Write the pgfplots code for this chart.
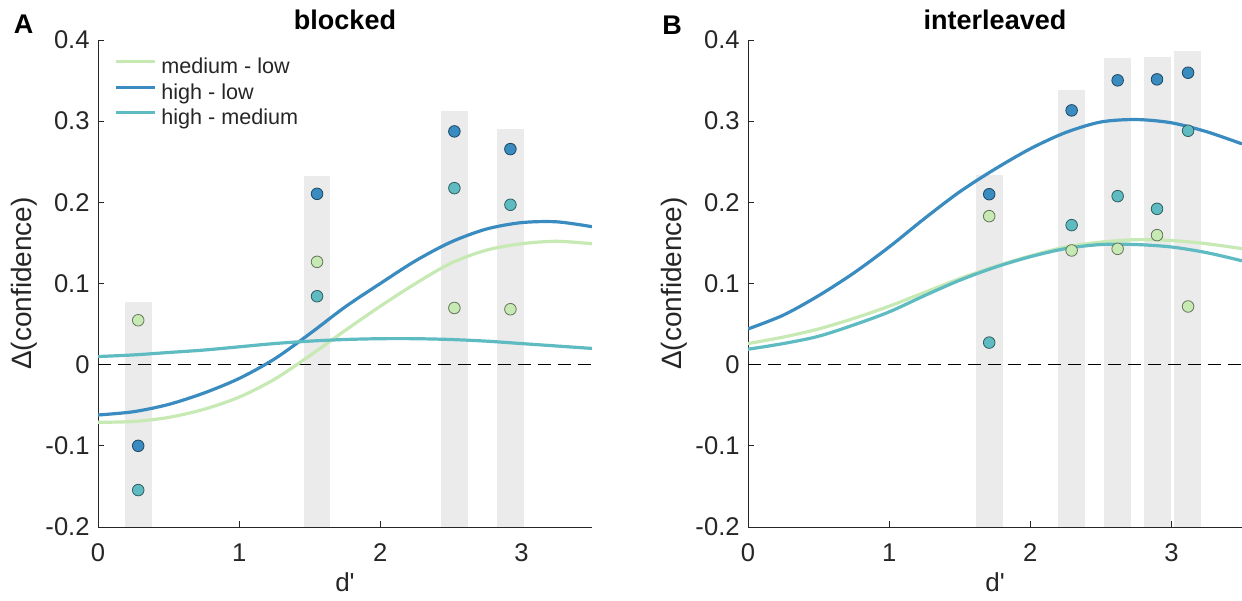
\documentclass[border=0pt]{standalone}
\usepackage{fontspec}
\setmainfont{Liberation Sans}
\usepackage{pgfplots}
\pgfplotsset{compat=1.18}
\definecolor{cGreen}{HTML}{C7E9B4}
\definecolor{cBlue}{HTML}{3A8CC0}
\definecolor{cTeal}{HTML}{5EBBC1}
\definecolor{cBar}{HTML}{EBEBEB}
\definecolor{cAxis}{HTML}{262626}
\pgfplotsset{
  panel/.style={
    width=247pt, height=243.5pt, scale only axis,
    clip mode=individual,
    xmin=0, xmax=3.5, ymin=-0.2, ymax=0.4,
    axis x line*=bottom, axis y line*=left,
    axis line style={draw=cAxis, line width=0.5pt, -},
    tick align=inside, major tick length=2.8pt,
    tick style={draw=cAxis, line width=0.5pt},
    xtick={0,1,2,3}, xticklabels={0,1,2,3},
    ytick={-0.2,-0.1,0,0.1,0.2,0.3,0.4},
    yticklabels={-0.2,-0.1,0,0.1,0.2,0.3,0.4},
    ticklabel style={font=\fontsize{12.8}{15}\selectfont, text=cAxis},
    xticklabel style={inner sep=0pt, anchor=north, yshift=-8pt},
    yticklabel style={inner sep=0pt, anchor=east, xshift=-4pt},
    every axis title/.style={font=\bfseries\fontsize{13.5}{15}\selectfont, at={(rel axis cs:0.5,1)}, anchor=base, yshift=5.35pt, inner sep=0pt},
  },
  bar/.style={fill=cBar, draw=none, forget plot},
  zero/.style={draw=black, line width=0.5pt, dash pattern=on 6.5pt off 3.5pt, forget plot},
  curve/.style={smooth, line width=1.6pt, draw=#1, no markers},
  pts/.style={only marks, mark=*, mark size=2.9pt, forget plot, mark options={fill=#1, draw=#1!50!black, line width=0.4pt}},
}
\begin{document}
\begin{tikzpicture}
\path[use as bounding box] (-49pt,-36.5pt) rectangle (572pt,263.5pt);
% ---------------- Panel A ----------------
\begin{axis}[panel, at={(0pt,0pt)}, anchor=south west, title={blocked},
  legend style={at={(rel axis cs:0,1)}, anchor=north west, xshift=8pt, yshift=-7.7pt,
    draw=none, fill=none, inner sep=0pt, outer sep=0pt, row sep=0pt, column sep=2pt,
    font=\fontsize{10.8}{12}\selectfont, text=cAxis,
    nodes={inner sep=0.6pt, text height=8.5pt, text depth=3pt}},
  legend cell align=left,
  legend image code/.code={\draw[#1] (0pt,3.2pt) -- (19.5pt,3.2pt);}]
\addplot[bar] coordinates {(0.19,-0.2) (0.19,0.077) (0.38,0.077) (0.38,-0.2)} -- cycle;
\addplot[bar] coordinates {(1.458,-0.2) (1.458,0.233) (1.647,0.233) (1.647,-0.2)} -- cycle;
\addplot[bar] coordinates {(2.43,-0.2) (2.43,0.312) (2.62,0.312) (2.62,-0.2)} -- cycle;
\addplot[bar] coordinates {(2.827,-0.2) (2.827,0.290) (3.017,0.290) (3.017,-0.2)} -- cycle;
\addplot[zero] coordinates {(0,0) (3.5,0)};
\addplot[curve=cGreen] coordinates {(0,-0.071)(0.25,-0.070)(0.5,-0.065)(0.75,-0.055)(1.0,-0.040)(1.25,-0.018)(1.5,0.011)(1.75,0.042)(2.0,0.072)(2.25,0.100)(2.5,0.125)(2.75,0.141)(3.0,0.149)(3.25,0.152)(3.5,0.149)};
\addlegendentry{medium - low}
\addplot[curve=cBlue] coordinates {(0,-0.062)(0.25,-0.058)(0.5,-0.049)(0.75,-0.035)(1.0,-0.017)(1.25,0.007)(1.5,0.038)(1.75,0.071)(2.0,0.100)(2.25,0.128)(2.5,0.151)(2.75,0.167)(3.0,0.175)(3.25,0.176)(3.5,0.170)};
\addlegendentry{high - low}
\addplot[curve=cTeal] coordinates {(0,0.010)(0.25,0.012)(0.5,0.015)(0.75,0.018)(1.0,0.022)(1.25,0.026)(1.5,0.029)(1.75,0.031)(2.0,0.032)(2.25,0.032)(2.5,0.031)(2.75,0.029)(3.0,0.026)(3.25,0.023)(3.5,0.020)};
\addlegendentry{high - medium}
\addplot[pts=cGreen] coordinates {(0.285,0.0547) (1.552,0.1267) (2.525,0.0699) (2.922,0.0683)};
\addplot[pts=cBlue] coordinates {(0.285,-0.100) (1.552,0.2105) (2.525,0.2874) (2.922,0.2656)};
\addplot[pts=cTeal] coordinates {(0.285,-0.1545) (1.552,0.0843) (2.525,0.2175) (2.922,0.197)};
\node[anchor=base west, inner sep=0pt, font=\bfseries\fontsize{13.5}{15}\selectfont] at ([xshift=-42.3pt, yshift=3.35pt]rel axis cs:0,1) {A};
\node[rotate=90, anchor=center, inner sep=0pt, font=\fontsize{14}{16}\selectfont, text=cAxis] at ([xshift=-37pt]rel axis cs:0,0.5) {Δ(confidence)};
\node[anchor=base, inner sep=0pt, font=\fontsize{13}{15}\selectfont, text=cAxis] at ([yshift=-32pt]rel axis cs:0.5,0) {d\textquotesingle};
\end{axis}
% ---------------- Panel B ----------------
\begin{axis}[panel, at={(325pt,0pt)}, anchor=south west, title={interleaved}]
\addplot[bar] coordinates {(1.614,-0.2) (1.614,0.234) (1.806,0.234) (1.806,-0.2)} -- cycle;
\addplot[bar] coordinates {(2.197,-0.2) (2.197,0.339) (2.388,0.339) (2.388,-0.2)} -- cycle;
\addplot[bar] coordinates {(2.522,-0.2) (2.522,0.378) (2.716,0.378) (2.716,-0.2)} -- cycle;
\addplot[bar] coordinates {(2.806,-0.2) (2.806,0.379) (2.995,0.379) (2.995,-0.2)} -- cycle;
\addplot[bar] coordinates {(3.018,-0.2) (3.018,0.387) (3.212,0.387) (3.212,-0.2)} -- cycle;
\addplot[zero] coordinates {(0,0) (3.5,0)};
\addplot[curve=cGreen] coordinates {(0,0.026)(0.25,0.034)(0.5,0.044)(0.75,0.057)(1.0,0.072)(1.25,0.089)(1.5,0.106)(1.75,0.121)(2.0,0.134)(2.25,0.145)(2.5,0.151)(2.75,0.154)(3.0,0.153)(3.25,0.149)(3.5,0.143)};
\addplot[curve=cBlue] coordinates {(0,0.044)(0.25,0.061)(0.5,0.085)(0.75,0.113)(1.0,0.145)(1.25,0.180)(1.5,0.213)(1.75,0.241)(2.0,0.266)(2.25,0.286)(2.5,0.299)(2.75,0.302)(3.0,0.298)(3.25,0.287)(3.5,0.272)};
\addplot[curve=cTeal] coordinates {(0,0.019)(0.25,0.026)(0.5,0.035)(0.75,0.049)(1.0,0.065)(1.25,0.085)(1.5,0.104)(1.75,0.120)(2.0,0.133)(2.25,0.143)(2.5,0.148)(2.75,0.148)(3.0,0.145)(3.25,0.138)(3.5,0.128)};
\addplot[pts=cGreen] coordinates {(1.709,0.183) (2.293,0.1407) (2.619,0.1427) (2.898,0.1596) (3.118,0.0717)};
\addplot[pts=cBlue] coordinates {(1.709,0.210) (2.293,0.3133) (2.619,0.3503) (2.898,0.3515) (3.118,0.3597)};
\addplot[pts=cTeal] coordinates {(1.709,0.0272) (2.293,0.1719) (2.619,0.2076) (2.898,0.192) (3.118,0.2882)};
\node[anchor=base west, inner sep=0pt, font=\bfseries\fontsize{13.5}{15}\selectfont] at ([xshift=-43pt, yshift=3pt]rel axis cs:0,1) {B};
\node[rotate=90, anchor=center, inner sep=0pt, font=\fontsize{14}{16}\selectfont, text=cAxis] at ([xshift=-37pt]rel axis cs:0,0.5) {Δ(confidence)};
\node[anchor=base, inner sep=0pt, font=\fontsize{13}{15}\selectfont, text=cAxis] at ([yshift=-32pt]rel axis cs:0.5,0) {d\textquotesingle};
\end{axis}
\end{tikzpicture}
\end{document}
